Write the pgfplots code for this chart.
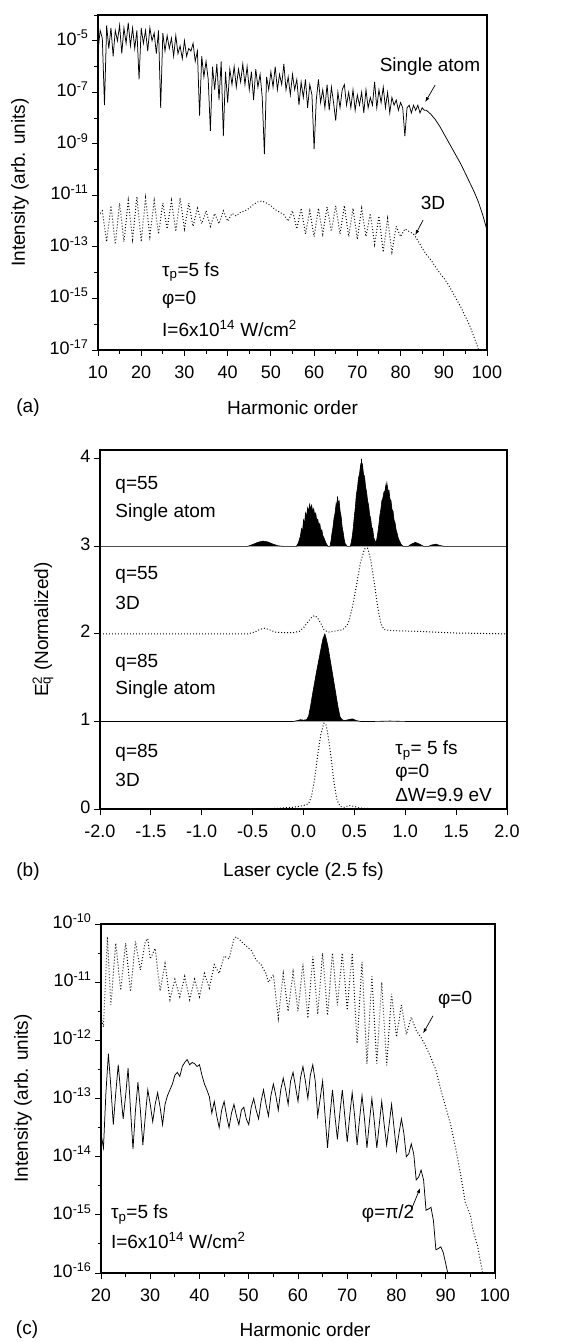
\documentclass[border=0pt]{standalone}
\usepackage{fontspec}
\setmainfont{Liberation Sans}
\usepackage{pgfplots}
\pgfplotsset{compat=1.18}
\usetikzlibrary{arrows.meta}

\tikzset{
  arr/.style={-{Latex[length=5pt,width=3.5pt]}, line width=0.7pt},
  txt/.style={font=\fontsize{19}{22}\selectfont, inner sep=0pt},
}
\pgfplotsset{
  panel/.style={
    scale only axis,
    axis line style={line width=1.1pt},
    tick align=outside,
    tick pos=left,
    major tick length=6pt,
    minor tick length=3.5pt,
    major tick style={line width=0.9pt,black},
    minor tick style={line width=0.9pt,black},
    tick label style={font=\fontsize{18}{20}\selectfont},
    xticklabel style={yshift=-5pt},
    typeset ticklabels with strut,
    /pgf/number format/assume math mode=true,
    clip mode=individual,
  },
  sol/.style={black, line width=0.75pt},
  dots/.style={black, line width=1pt, dash pattern=on 0.9pt off 2.1pt},
}

\pgfplotstableread{
h v
10.0 -5.4
10.5 -4.6
11.0 -4.9
11.5 -7.5
12.0 -4.4
12.5 -5.3
13.0 -4.5
13.5 -5.6
14.0 -4.6
14.5 -5.0
15.0 -4.4
15.5 -5.5
16.0 -4.5
16.5 -5.1
17.0 -4.3
17.5 -5.2
18.0 -4.5
18.5 -5.3
19.0 -4.6
19.5 -6.5
20.0 -4.5
20.5 -5.1
21.0 -4.6
21.5 -5.4
22.0 -4.5
22.5 -5.0
23.0 -4.7
23.5 -5.5
24.0 -4.6
24.5 -7.6
25.0 -4.7
25.5 -5.4
26.0 -4.8
26.5 -5.3
27.0 -4.9
27.5 -5.6
28.0 -4.8
28.5 -5.5
29.0 -5.2
29.5 -5.7
30.0 -5.0
30.5 -5.6
31.0 -5.3
31.5 -5.4
32.0 -5.1
32.5 -5.8
33.0 -5.4
33.5 -7.9
34.0 -5.6
34.5 -6.4
35.0 -5.8
35.5 -6.5
36.0 -8.5
36.5 -6.0
37.0 -6.9
37.5 -5.9
38.0 -7.3
38.5 -5.8
39.0 -8.7
39.5 -6.2
40.0 -7.4
40.5 -6.1
41.0 -6.7
41.5 -6.0
42.0 -6.8
42.5 -6.1
43.0 -6.6
43.5 -5.9
44.0 -6.7
44.5 -6.0
45.0 -6.9
45.5 -6.2
46.0 -7.3
46.5 -6.1
47.0 -6.8
47.5 -6.3
48.0 -7.2
48.5 -9.4
49.0 -6.4
49.5 -6.9
50.0 -6.2
50.5 -6.8
51.0 -6.0
51.5 -6.9
52.0 -6.3
52.5 -6.7
53.0 -5.9
53.5 -6.9
54.0 -6.4
54.5 -7.1
55.0 -6.3
55.5 -6.9
56.0 -6.5
56.5 -7.5
57.0 -6.6
57.5 -7.2
58.0 -6.5
58.5 -7.6
59.0 -6.7
59.5 -7.1
60.0 -9.2
60.5 -7.3
61.0 -6.5
61.5 -7.4
62.0 -6.9
62.5 -7.6
63.0 -6.7
63.5 -7.7
64.0 -6.8
64.5 -7.4
65.0 -8.1
65.5 -7.0
66.0 -7.6
66.5 -6.9
67.0 -6.7
67.5 -7.5
68.0 -7.0
68.5 -7.6
69.0 -6.9
69.5 -7.7
70.0 -7.1
70.5 -7.5
71.0 -7.0
71.5 -7.8
72.0 -6.9
72.5 -7.6
73.0 -7.2
73.5 -7.5
74.0 -6.6
74.5 -7.6
75.0 -6.9
75.5 -7.4
76.0 -6.8
76.5 -7.6
77.0 -7.0
77.5 -7.8
78.0 -7.2
78.5 -7.5
79.0 -7.3
79.5 -7.7
80.0 -7.4
80.5 -7.6
81.0 -8.7
81.5 -7.6
82.0 -7.5
82.5 -7.8
83.0 -7.5
83.5 -7.7
84.0 -7.5
84.5 -7.8
85.0 -7.6
85.5 -7.7
86.0 -7.7
87.0 -7.85
88.0 -8.05
89.0 -8.3
90.0 -8.6
91.0 -8.9
92.0 -9.2
93.0 -9.5
94.0 -9.8
95.0 -10.15
96.0 -10.5
97.0 -10.85
98.0 -11.25
99.0 -11.75
100.0 -12.35
}\singleA

\pgfplotstableread{
h v
10.5 -11.7
11 -11.6
12 -12.8
13 -11.4
14 -12.9
15 -11.3
16 -12.8
17 -11.2
18 -12.7
19 -11.05
20 -12.8
21 -11.1
22 -12.6
23 -11.2
24 -12.5
25 -11.3
26 -12.3
27 -11.2
28 -12.4
29 -11.1
30 -12.3
31 -11.3
32 -12.2
33 -11.5
34 -12.1
35 -11.6
36 -12.2
37 -11.7
38 -12.1
39 -11.6
40 -12.0
41 -11.7
42 -11.8
43 -11.65
44 -11.6
45 -11.5
46 -11.35
47 -11.25
48 -11.22
49 -11.3
50 -11.4
51 -11.55
52 -11.65
53 -11.75
54 -12.0
55 -11.6
56 -12.3
57 -11.5
58 -12.5
59 -11.6
60 -12.6
61 -11.5
62 -12.5
63 -11.45
64 -12.4
65 -11.4
66 -12.5
67 -11.4
68 -12.6
69 -11.5
70 -12.7
71 -11.5
72 -12.6
73 -11.7
74 -12.9
75 -11.8
76 -13.2
77 -11.9
78 -13.2
79 -12.2
80 -12.6
81 -12.3
82 -12.4
83 -12.5
84 -12.75
85 -13.05
86 -13.3
87 -13.5
88 -13.75
89 -14.0
90 -14.2
91 -14.45
92 -14.75
93 -15.05
94 -15.35
95 -15.7
96 -16.05
97 -16.5
98 -16.95
}\threeDA

\pgfplotstableread{
h v
20.0 -11.6
20.5 -11.77
21.3 -10.22
22.0 -11.39
23.0 -10.33
24.0 -11.14
25.0 -10.33
26.0 -11.16
27.0 -10.3
28.0 -10.79
29.0 -10.3
29.5 -10.25
30.0 -10.6
31.0 -10.42
32.0 -11.15
33.0 -10.68
34.0 -11.3
35.0 -10.95
36.0 -11.25
37.0 -10.9
38.0 -11.3
39.0 -10.95
40.0 -11.25
41.0 -10.85
42.0 -11.1
43.0 -10.7
44.0 -10.85
45.0 -10.55
46.0 -10.6
47.0 -10.25
47.5 -10.22
48.5 -10.3
49.5 -10.38
50.5 -10.45
51.5 -10.62
52.5 -10.7
53.5 -10.85
54.0 -11.0
55.0 -10.87
56.0 -11.62
57.0 -10.85
58.0 -11.5
59.0 -10.82
60.0 -11.5
61.0 -10.68
62.0 -11.62
63.0 -10.56
64.0 -11.55
65.0 -10.5
66.0 -11.57
67.0 -10.5
68.0 -11.4
69.0 -10.5
70.0 -11.48
71.0 -10.5
72.0 -12.05
73.0 -10.65
74.0 -12.4
75.0 -10.9
76.0 -12.4
77.0 -11.0
78.0 -12.43
79.0 -11.2
80.0 -11.94
81.0 -11.39
82.0 -11.9
83.0 -11.6
84.0 -11.83
85.0 -11.95
86.0 -12.11
87.0 -12.3
88.0 -12.51
89.0 -12.85
90.0 -13.15
91.0 -13.45
92.0 -13.85
93.0 -14.3
94.0 -14.8
95.0 -15.0
95.5 -15.25
96.0 -15.4
96.5 -15.55
97.0 -15.78
97.5 -16.0
}\phiZeroC

\pgfplotstableread{
h v
20.0 -13.6
20.5 -13.85
21.0 -12.9
21.5 -12.23
22.0 -12.8
22.5 -13.45
23.0 -12.9
23.5 -12.42
24.0 -12.9
24.5 -13.35
25.0 -12.95
25.5 -12.48
26.0 -13.2
26.5 -13.87
27.0 -13.2
27.5 -12.72
28.0 -13.2
28.5 -13.8
29.0 -13.3
29.5 -12.85
30.0 -13.1
30.5 -13.4
31.0 -13.1
31.5 -12.9
32.0 -13.15
32.5 -13.45
33.0 -13.1
33.5 -12.95
34.0 -12.85
34.5 -12.75
35.0 -12.6
35.5 -12.55
36.0 -12.62
36.5 -12.45
37.0 -12.38
37.5 -12.33
38.0 -12.42
38.5 -12.38
39.0 -12.4
39.5 -12.45
40.0 -12.42
40.5 -12.6
41.0 -12.75
41.5 -12.85
42.0 -12.97
42.5 -13.25
43.0 -13.05
43.5 -13.3
44.0 -13.5
44.5 -13.2
45.0 -13.05
45.5 -13.3
46.0 -13.5
46.5 -13.25
47.0 -13.1
47.5 -13.3
48.0 -13.45
48.5 -13.2
49.0 -13.15
49.5 -13.35
50.0 -13.45
50.5 -13.15
51.0 -13.0
51.5 -13.2
52.0 -13.35
52.5 -13.05
53.0 -12.85
53.5 -13.1
54.0 -13.3
54.5 -12.95
55.0 -12.75
55.5 -12.95
56.0 -13.2
56.5 -12.85
57.0 -12.65
57.5 -12.85
58.0 -13.1
58.5 -12.7
59.0 -12.55
59.5 -12.8
60.0 -13.05
60.5 -12.65
61.0 -12.45
61.5 -12.7
62.0 -13.0
62.5 -12.6
63.0 -12.42
63.5 -12.7
64.0 -13.3
64.5 -13.0
65.0 -12.7
65.5 -13.3
66.0 -13.85
66.5 -13.3
67.0 -12.85
67.5 -13.3
68.0 -13.7
68.5 -13.25
69.0 -12.85
69.5 -13.3
70.0 -13.75
70.5 -13.3
71.0 -12.9
71.5 -13.3
72.0 -13.8
72.5 -13.35
73.0 -12.95
73.5 -13.35
74.0 -13.85
74.5 -13.4
75.0 -13.0
75.5 -13.4
76.0 -13.85
76.5 -13.45
77.0 -13.05
77.5 -13.45
78.0 -13.8
78.5 -13.45
79.0 -13.1
79.5 -13.5
80.0 -13.9
80.5 -13.6
81.0 -13.35
81.5 -13.6
82.0 -14.0
82.5 -13.95
83.0 -13.78
83.5 -13.95
84.0 -14.4
84.5 -14.35
85.0 -14.23
85.5 -14.4
86.0 -14.92
86.5 -14.9
87.0 -14.87
87.5 -15.1
88.0 -15.6
88.5 -15.58
89.0 -15.55
89.5 -15.65
90.0 -15.84
90.4 -16.0
}\phiHalfC

\begin{document}
\begin{tikzpicture}[x=1pt,y=1pt]
\useasboundingbox (0,0) rectangle (571,-1342);

% ---------------- (a) ----------------
\begin{axis}[panel,
  at={(98pt,-350pt)}, anchor=south west,
  width=389pt, height=335pt,
  xmin=10, xmax=100, ymin=-17, ymax=-4,
  xtick={10,20,...,100}, minor x tick num=1,
  ytick={-17,-15,-13,-11,-9,-7,-5},
  yticklabels={10\textsuperscript{-17},10\textsuperscript{-15},10\textsuperscript{-13},10\textsuperscript{-11},10\textsuperscript{-9},10\textsuperscript{-7},10\textsuperscript{-5}},
  minor ytick={-16,-14,-12,-10,-8,-6,-4},
  xlabel={Harmonic order},
  ylabel={Intensity (arb. units)},
  every axis x label/.style={at={(axis description cs:0.5,-0.173)}, anchor=center, font=\fontsize{19}{22}\selectfont},
  every axis y label/.style={at={(axis description cs:-0.2005,0.5)}, rotate=90, anchor=center, font=\fontsize{19}{22}\selectfont},
]
\addplot[sol] table[x=h,y=v] {\singleA};
\addplot[dots] table[x=h,y=v] {\threeDA};
\node[txt] at (axis cs:86.8,-6.0) {Single atom};
\draw[arr] (axis cs:88.0,-6.72) -- (axis cs:85.7,-7.38);
\node[txt] at (axis cs:87.5,-11.3) {3D};
\draw[arr] (axis cs:85.2,-11.96) -- (axis cs:83.4,-12.54);
\node[txt,anchor=west] at (axis cs:24.8,-13.98) {τ\textsubscript{p}=5 fs};
\node[txt,anchor=west] at (axis cs:24.8,-15.07) {φ=0};
\node[txt,anchor=west] at (axis cs:24.8,-16.16) {I=6x10\textsuperscript{14} W/cm\textsuperscript{2}};
\end{axis}
\node[txt] at (28,-408) {(a)};

% ---------------- (b) ----------------
\begin{axis}[panel,
  at={(100pt,-809pt)}, anchor=south west,
  width=407pt, height=359pt,
  xmin=-2, xmax=2, ymin=0, ymax=4.1,
  xtick={-2,-1.5,-1,-0.5,0,0.5,1,1.5,2},
  xticklabels={-2.0,-1.5,-1.0,-0.5,0.0,0.5,1.0,1.5,2.0},
  ytick={0,1,2,3,4},
  xlabel={Laser cycle (2.5 fs)},
  ylabel={E\rlap{\textsuperscript{2}}\textsubscript{q} (Normalized)},
  every axis x label/.style={at={(axis description cs:0.5,-0.1755)}, anchor=center, font=\fontsize{19}{22}\selectfont},
  every axis y label/.style={at={(axis description cs:-0.14,0.5)}, rotate=90, anchor=center, font=\fontsize{19}{22}\selectfont},
]
% q=55 single atom (offset 3)
\addplot[black, line width=0.6pt, fill=black] coordinates {
(-2,3) (-0.55,3) (-0.5,3.02) (-0.45,3.045) (-0.4,3.06) (-0.35,3.05) (-0.3,3.025) (-0.25,3.006) (-0.2,3.0)
(-0.07,3.0) (-0.05,3.04) (-0.03,3.12) (-0.02,3.2) (-0.01,3.16) (0.0,3.3) (0.01,3.26) (0.02,3.38) (0.03,3.34)
(0.04,3.44) (0.05,3.4) (0.06,3.48) (0.07,3.43) (0.08,3.47) (0.09,3.4) (0.10,3.43) (0.11,3.36) (0.12,3.38)
(0.13,3.3) (0.14,3.31) (0.15,3.24) (0.16,3.26) (0.17,3.18) (0.18,3.19) (0.19,3.12) (0.20,3.1) (0.22,3.04)
(0.24,3.0) (0.26,3.0) (0.27,3.06) (0.28,3.15) (0.29,3.22) (0.30,3.32) (0.31,3.38) (0.32,3.48) (0.325,3.44)
(0.335,3.57) (0.34,3.5) (0.35,3.52) (0.36,3.4) (0.37,3.34) (0.38,3.22) (0.39,3.16) (0.40,3.08) (0.41,3.03)
(0.43,3.0) (0.46,3.0) (0.47,3.05) (0.48,3.12) (0.49,3.22) (0.50,3.35) (0.51,3.45) (0.52,3.6) (0.53,3.66)
(0.54,3.78) (0.55,3.82) (0.56,3.92) (0.565,3.86) (0.57,4.0) (0.575,3.9) (0.58,3.93) (0.59,3.82) (0.60,3.8)
(0.61,3.68) (0.62,3.62) (0.63,3.52) (0.64,3.47) (0.65,3.36) (0.66,3.32) (0.67,3.22) (0.68,3.2) (0.69,3.1)
(0.70,3.07) (0.71,3.04) (0.72,3.08) (0.73,3.15) (0.74,3.24) (0.75,3.35) (0.76,3.42) (0.77,3.52) (0.78,3.55)
(0.79,3.62) (0.80,3.63) (0.81,3.7) (0.815,3.64) (0.82,3.72) (0.83,3.64) (0.84,3.64) (0.85,3.54) (0.86,3.52)
(0.87,3.42) (0.88,3.4) (0.89,3.3) (0.90,3.27) (0.91,3.19) (0.92,3.15) (0.93,3.1) (0.94,3.07) (0.96,3.02)
(0.98,3.0) (1.03,3.0) (1.06,3.025) (1.10,3.045) (1.14,3.025) (1.18,3.0) (1.23,3.0) (1.26,3.015) (1.30,3.025)
(1.34,3.01) (1.38,3.0) (2,3)
};
% q=55 3D (offset 2)
\addplot[dots] coordinates {
(-2,2) (-0.55,2.0) (-0.48,2.02) (-0.43,2.05) (-0.39,2.065) (-0.34,2.05) (-0.28,2.02) (-0.2,2.015)
(-0.1,2.015) (-0.04,2.03) (0.0,2.07) (0.04,2.13) (0.08,2.19) (0.11,2.21) (0.14,2.18) (0.17,2.12)
(0.20,2.05) (0.24,2.02) (0.30,2.03) (0.36,2.04) (0.40,2.06) (0.44,2.12) (0.48,2.3) (0.52,2.55)
(0.56,2.82) (0.60,2.97) (0.63,2.98) (0.66,2.85) (0.70,2.55) (0.73,2.3) (0.76,2.12) (0.79,2.05)
(0.85,2.04) (0.95,2.035) (1.1,2.03) (1.3,2.02) (1.5,2.01) (2,2.0)
};
% q=85 single atom (offset 1)
\addplot[black, line width=0.6pt, fill=black] coordinates {
(-2,1) (-0.1,1.0) (-0.06,1.01) (-0.03,1.02) (0.0,1.015) (0.03,1.02) (0.05,1.06) (0.07,1.18) (0.09,1.32)
(0.11,1.45) (0.13,1.58) (0.15,1.7) (0.17,1.82) (0.19,1.94) (0.21,2.0) (0.22,1.96) (0.24,1.86) (0.26,1.72)
(0.28,1.58) (0.30,1.44) (0.32,1.3) (0.34,1.16) (0.36,1.05) (0.38,1.02) (0.40,1.01) (0.44,1.02) (0.48,1.03)
(0.52,1.01) (0.56,1.0) (0.7,1.0) (0.85,1.005) (1.0,1.0) (2,1)
};
% q=85 3D (offset 0)
\addplot[dots] coordinates {
(-2,0.005) (-0.3,0.005) (-0.1,0.02) (0.0,0.04) (0.05,0.06) (0.08,0.15) (0.11,0.35) (0.14,0.62)
(0.17,0.85) (0.20,0.98) (0.22,0.97) (0.24,0.85) (0.27,0.6) (0.30,0.3) (0.33,0.1) (0.36,0.03)
(0.40,0.02) (0.45,0.04) (0.50,0.03) (0.55,0.01) (0.65,0.005) (2,0.005)
};
\node[txt,anchor=west] at (axis cs:-1.85,3.70) {q=55};
\node[txt,anchor=west] at (axis cs:-1.85,3.39) {Single atom};
\node[txt,anchor=west] at (axis cs:-1.85,2.67) {q=55};
\node[txt,anchor=west] at (axis cs:-1.85,2.35) {3D};
\node[txt,anchor=west] at (axis cs:-1.85,1.67) {q=85};
\node[txt,anchor=west] at (axis cs:-1.85,1.36) {Single atom};
\node[txt,anchor=west] at (axis cs:-1.85,0.64) {q=85};
\node[txt,anchor=west] at (axis cs:-1.85,0.33) {3D};
\node[txt,anchor=west] at (axis cs:0.9,0.67) {τ\textsubscript{p}= 5 fs};
\node[txt,anchor=west] at (axis cs:0.9,0.41) {φ=0};
\node[txt,anchor=west] at (axis cs:0.9,0.16) {ΔW=9.9 eV};
\end{axis}
\node[txt] at (28,-872) {(b)};

% ---------------- (c) ----------------
\begin{axis}[panel,
  at={(101pt,-1273pt)}, anchor=south west,
  width=394pt, height=349pt,
  xmin=20, xmax=100, ymin=-16, ymax=-10,
  xtick={20,30,...,100}, minor x tick num=1,
  ytick={-16,-15,-14,-13,-12,-11,-10},
  yticklabels={10\textsuperscript{-16},10\textsuperscript{-15},10\textsuperscript{-14},10\textsuperscript{-13},10\textsuperscript{-12},10\textsuperscript{-11},10\textsuperscript{-10}},
  minor y tick num=1,
  xlabel={Harmonic order},
  ylabel={Intensity (arb. units)},
  every axis x label/.style={at={(axis description cs:0.518,-0.163)}, anchor=center, font=\fontsize{19}{22}\selectfont},
  every axis y label/.style={at={(axis description cs:-0.198,0.5)}, rotate=90, anchor=center, font=\fontsize{19}{22}\selectfont},
]
\addplot[dots] table[x=h,y=v] {\phiZeroC};
\addplot[sol] table[x=h,y=v] {\phiHalfC};
\node[txt] at (axis cs:91.9,-11.31) {φ=0};
\draw[arr] (axis cs:87.4,-11.58) -- (axis cs:85.4,-11.88);
\node[txt] at (axis cs:78.3,-14.97) {φ=π/2};
\draw[arr] (axis cs:83.1,-14.89) -- (axis cs:84.8,-14.54);
\node[txt,anchor=west] at (axis cs:22.0,-14.99) {τ\textsubscript{p}=5 fs};
\node[txt,anchor=west] at (axis cs:22.0,-15.44) {I=6x10\textsuperscript{14} W/cm\textsuperscript{2}};
\end{axis}
\node[txt] at (27,-1330) {(c)};
\end{tikzpicture}
\end{document}
